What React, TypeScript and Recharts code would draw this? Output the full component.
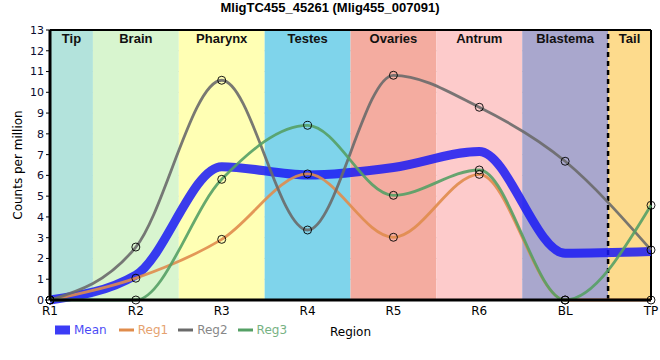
import React from 'react';
import {
  LineChart, Line, XAxis, YAxis, CartesianGrid, ReferenceArea, ReferenceLine, Legend,
} from 'recharts';

const categories = ['R1', 'R2', 'R3', 'R4', 'R5', 'R6', 'BL', 'TP'];
const regions = ['Tip', 'Brain', 'Pharynx', 'Testes', 'Ovaries', 'Antrum', 'Blastema', 'Tail'];
const regionColors = ['#b3e3dc', '#d8f5cf', '#ffffb4', '#7fd4eb', '#f4aca0', '#fdcbcb', '#a9a7cd', '#fddb8d'];
const meanValues = [0, 1.2, 6.42, 6.02, 6.38, 7.15, 2.25, 2.33];
const reg1Values = [0, 1.05, 2.92, 6.07, 3.02, 6.05, 0, 0];
const reg2Values = [0, 2.55, 10.58, 3.37, 10.82, 9.28, 6.68, 2.41];
const reg3Values = [0, 0, 5.81, 8.41, 5.04, 6.26, 0, 4.56];
const yTicks = [0, 1, 2, 3, 4, 5, 6, 7, 8, 9, 10, 11, 12, 13];

const seriesInfo = [
  { key: 'Mean', color: '#1a1af5', width: 9, dots: false },
  { key: 'Reg1', color: '#e08c4c', width: 2.8, dots: true },
  { key: 'Reg2', color: '#6a6a6a', width: 2.8, dots: true },
  { key: 'Reg3', color: '#55a065', width: 2.8, dots: true },
];

const data = categories.map((c, i) => ({
  idx: i,
  name: c,
  Mean: meanValues[i],
  Reg1: reg1Values[i],
  Reg2: reg2Values[i],
  Reg3: reg3Values[i],
}));

const lastIdx = categories.length - 1;
const FONT = 'DejaVu Sans, Verdana, sans-serif';

const LegendContent = () => (
  <div style={{ display: 'flex', alignItems: 'center', fontFamily: FONT, fontSize: 12, height: 16 }}>
    {seriesInfo.map((s) => (
      <div key={s.key} style={{ display: 'flex', alignItems: 'center', marginRight: s.key === 'Mean' ? 12 : 10 }}>
        <svg width={15} height={12} style={{ marginRight: 4 }}>
          {s.key === 'Mean' ? (
            <rect x={0} y={1.5} width={15} height={9} fill={s.color} fillOpacity={0.85} />
          ) : (
            <line x1={0} x2={15} y1={6} y2={6} stroke={s.color} strokeWidth={3} />
          )}
        </svg>
        <span style={{ color: s.color, opacity: 0.8 }}>{s.key}</span>
      </div>
    ))}
  </div>
);

export default function App() {
  return (
    <div style={{ position: 'absolute', left: 0, top: 0, width: 660, height: 360, background: '#fff' }}>
      <div
        style={{
          position: 'absolute', left: 0, top: 0, width: 660, textAlign: 'center',
          fontFamily: 'Liberation Sans, Arial, sans-serif', fontWeight: 'bold', fontSize: 13, lineHeight: '16px', color: '#000',
        }}
      >
        MligTC455_45261 (Mlig455_007091)
      </div>
      <LineChart width={660} height={360} data={data} margin={{ top: 30, right: 9, bottom: 20, left: 5 }}>
        {regions.map((r, i) => (
          <ReferenceArea
            key={r}
            x1={Math.max(i - 0.5, 0)}
            x2={Math.min(i + 0.5, lastIdx)}
            y1={0}
            y2={13}
            fill={regionColors[i]}
            fillOpacity={1}
            stroke="none"
            label={{
              value: r, position: 'insideTop', offset: 4, fontWeight: 'bold', fontSize: 13,
              fill: '#111', fontFamily: 'Liberation Sans, Arial, sans-serif',
            }}
          />
        ))}
        <CartesianGrid stroke="#c8c8c8" strokeWidth={1} />
        <XAxis
          dataKey="idx"
          type="number"
          domain={[0, lastIdx]}
          ticks={categories.map((_, i) => i)}
          tickFormatter={(v: number) => categories[v]}
          interval={0}
          height={40}
          tickLine={false}
          tickSize={4}
          axisLine={{ stroke: '#000', strokeWidth: 3 }}
          tick={{ fill: '#000', fontSize: 12, fontFamily: FONT }}
          label={{ value: 'Region', position: 'insideBottom', offset: 4, fill: '#000', fontSize: 12, fontFamily: FONT }}
        />
        <YAxis
          domain={[0, 13]}
          ticks={yTicks}
          interval={0}
          width={45}
          tickSize={4}
          tickLine={{ stroke: '#000' }}
          axisLine={{ stroke: '#000', strokeWidth: 3 }}
          tick={{ fill: '#0a0a30', fontSize: 11, fontFamily: FONT }}
          label={{ value: 'Counts per million', angle: -90, position: 'center', dx: -10, fill: '#000', fontSize: 12, fontFamily: FONT }}
        />
        <ReferenceLine x={lastIdx - 0.5} stroke="#000" strokeWidth={2.5} strokeDasharray="5 4" />
        <ReferenceLine y={13} stroke="#000" strokeWidth={2} />
        <ReferenceLine x={lastIdx} stroke="#000" strokeWidth={2} />
        {seriesInfo.map((s) => (
          <Line
            key={s.key}
            dataKey={s.key}
            type="monotone"
            stroke={s.color}
            strokeOpacity={s.key === 'Mean' ? 0.85 : 0.9}
            strokeWidth={s.width}
            dot={s.dots ? { r: 4, stroke: '#000', strokeWidth: 1, fill: 'none' } : false}
            activeDot={false}
            isAnimationActive={false}
          />
        ))}
        <Legend
          layout="horizontal"
          verticalAlign="middle"
          align="center"
          wrapperStyle={{ top: 322, left: 55, width: 300 }}
          content={() => <LegendContent />}
        />
      </LineChart>
    </div>
  );
}
